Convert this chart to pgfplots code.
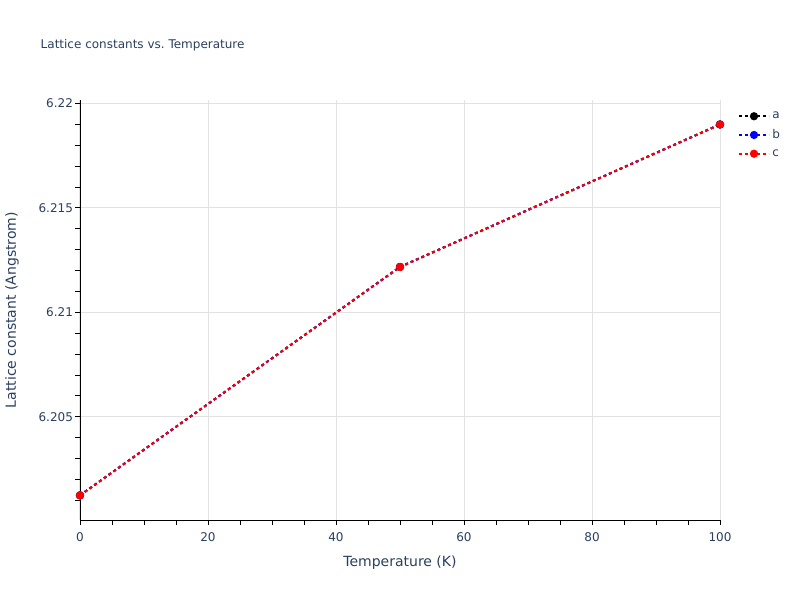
\documentclass[border=0pt]{standalone}
\usepackage{fontspec}
\setmainfont{DejaVu Sans}
\usepackage{pgfplots}
\pgfplotsset{compat=1.18}
\definecolor{txt}{RGB}{42,63,95}
\definecolor{gridc}{RGB}{226,226,226}
\begin{document}
\begin{tikzpicture}
\path (0,0) rectangle (600pt,450pt);
\node[anchor=west, text=txt, font=\fontsize{9pt}{10pt}\selectfont] at (27pt,416pt) {Lattice constants vs.\ Temperature};
\begin{axis}[
    at={(60pt,60pt)}, anchor=south west,
    scale only axis, width=480pt, height=315pt,
    xmin=0, xmax=100, ymin=6.20006, ymax=6.22016,
    axis x line*=bottom, axis y line*=left,
    axis line style={black, line width=0.6pt, -},
    xtick={0,20,...,100}, minor xtick={5,10,...,95},
    ytick={6.205,6.21,6.215,6.22},
    minor ytick={6.201,6.202,6.203,6.204,6.206,6.207,6.208,6.209,6.211,6.212,6.213,6.214,6.216,6.217,6.218,6.219},
    tick align=outside,
    major tick length=3.75pt, minor tick length=3.75pt,
    tick style={black, line width=0.6pt},
    xmajorgrids, ymajorgrids,
    major grid style={gridc, line width=0.75pt},
    /pgf/number format/assume math mode=true,
    yticklabel style={/pgf/number format/fixed, /pgf/number format/precision=3, text=txt, font=\fontsize{9pt}{10pt}\selectfont, xshift=2pt},
    xticklabel style={text=txt, font=\fontsize{9pt}{10pt}\selectfont, yshift=-2pt},
    scaled y ticks=false,
    xlabel={Temperature (K)}, ylabel={Lattice constant (Angstrom)},
    label style={text=txt, font=\fontsize{10.5pt}{12pt}\selectfont},
    xlabel style={at={(axis description cs:0.5,-0.1024)}, anchor=center},
    ylabel style={at={(axis description cs:-0.1063,0.5)}, anchor=center},
    clip=false,
    legend style={at={(1.022,0.985)}, anchor=north west, draw=none, fill=none,
        font=\fontsize{9pt}{10pt}\selectfont, text=txt, row sep=2.6pt,
        cells={anchor=west}},
    legend image code/.code={\draw[#1, mark repeat=2, mark phase=2] plot coordinates {(0pt,0pt) (11pt,0pt) (22pt,0pt)};},
    every axis plot/.append style={line width=1.5pt, dash pattern=on 2.2pt off 2.2pt, mark=*, mark size=2.3pt, mark options={solid}},
]
\addplot[black] coordinates {(0,6.20124) (50,6.21217) (100,6.21899)};
\addplot[blue] coordinates {(0,6.20124) (50,6.21217) (100,6.21899)};
\addplot[red] coordinates {(0,6.20124) (50,6.21217) (100,6.21899)};
\legend{a,b,c}
\end{axis}
\end{tikzpicture}
\end{document}
